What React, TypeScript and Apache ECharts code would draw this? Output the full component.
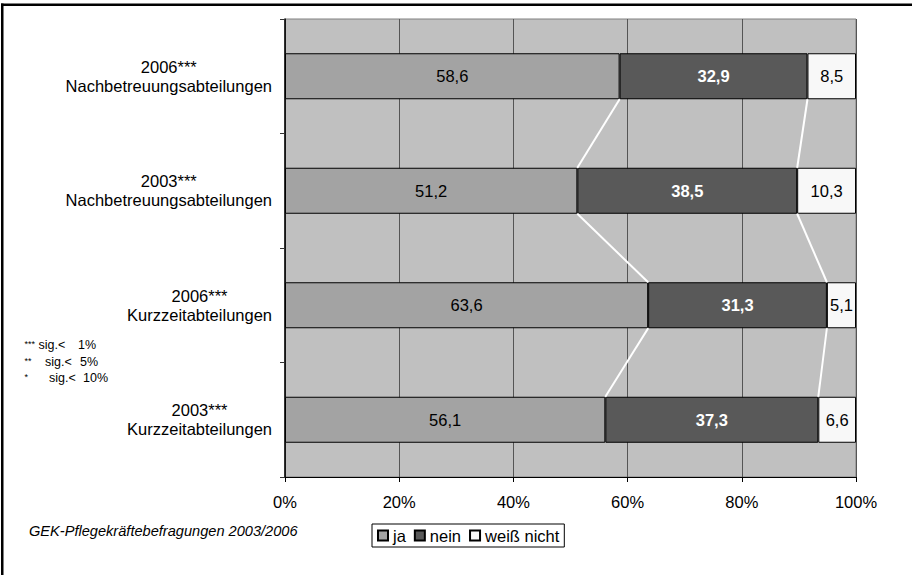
import React, { useEffect, useRef } from 'react';
import * as echarts from 'echarts';

// ---------- data ----------
const categories = [
  '2006***\nNachbetreuungsabteilungen',
  '2003***\nNachbetreuungsabteilungen',
  '2006***\nKurzzeitabteilungen',
  '2003***\nKurzzeitabteilungen',
];
const seriesNames = ['ja', 'nein', 'weiß nicht'];
const jaValues = [58.6, 51.2, 63.6, 56.1];
const neinValues = [32.9, 38.5, 31.3, 37.3];
const weissNichtValues = [8.5, 10.3, 5.1, 6.6];
const xMin = 0;
const xMax = 100;
const xInterval = 20;
const sourceNote = 'GEK-Pflegekräftebefragungen 2003/2006';
const sigStars = ['***', '**', '*'];
const sigTexts = ['sig.<', 'sig.<', 'sig.<'];
const sigLevels = ['1%', '5%', '10%'];

// ---------- style ----------
const FONT = "'Liberation Sans', Arial, sans-serif";
const FS = 16.5;
const BAR_W = 46;
const colors = ['#A3A3A3', '#595959', '#F8F8F8'];

const fmt = (v: number) => String(v).replace('.', ',');

export default function App() {
  const ref = useRef<HTMLDivElement>(null);

  useEffect(() => {
    if (!ref.current) return;
    const chart = echarts.init(ref.current, null, { renderer: 'svg' });

    const cum1 = jaValues;
    const cum2 = jaValues.map((v, i) => v + neinValues[i]);
    const connectors: number[][] = [];
    for (let i = 0; i < categories.length - 1; i++) {
      connectors.push([i, cum1[i], cum1[i + 1]]);
      connectors.push([i, cum2[i], cum2[i + 1]]);
    }

    const valueLists = [jaValues, neinValues, weissNichtValues];
    const labelStyles = [
      { color: '#000', fontWeight: 'normal' },
      { color: '#fff', fontWeight: 'bold' },
      { color: '#000', fontWeight: 'normal' },
    ];

    const barSeries = seriesNames.map((name, si) => ({
      name,
      type: 'bar',
      stack: 'total',
      barWidth: BAR_W,
      data: valueLists[si],
      itemStyle: { color: colors[si], borderColor: '#000', borderWidth: 1 },
      label: {
        show: true,
        position: 'inside',
        fontFamily: FONT,
        fontSize: FS,
        color: labelStyles[si].color,
        fontWeight: labelStyles[si].fontWeight,
        formatter: (p: any) => fmt(p.value),
      },
      emphasis: { disabled: true },
      z: 2,
    }));

    const sigGraphics: any[] = [];
    const sigY = [345, 361.5, 378];
    const starX = [24.5, 24.5, 24.5];
    const sigX = [38.5, 45, 49];
    const lvlX = [78, 80, 83];
    sigStars.forEach((s, i) => {
      sigGraphics.push({ type: 'text', x: starX[i], y: sigY[i] - 1, style: { text: s, font: `9px ${FONT}`, fill: '#000', verticalAlign: 'middle' } });
      sigGraphics.push({ type: 'text', x: sigX[i], y: sigY[i], style: { text: sigTexts[i], font: `12.5px ${FONT}`, fill: '#000', verticalAlign: 'middle' } });
      sigGraphics.push({ type: 'text', x: lvlX[i], y: sigY[i], style: { text: sigLevels[i], font: `12.5px ${FONT}`, fill: '#000', verticalAlign: 'middle' } });
    });

    const option: any = {
      animation: false,
      textStyle: { fontFamily: FONT },
      grid: {
        left: 285,
        top: 19,
        width: 571,
        height: 458,
        show: true,
        backgroundColor: '#C0C0C0',
        borderColor: '#808080',
        borderWidth: 1,
        outerBoundsMode: 'none',
        containLabel: false,
      },
      legend: {
        data: seriesNames,
        left: 372,
        top: 524,
        orient: 'horizontal',
        icon: 'rect',
        itemWidth: 10,
        itemHeight: 10,
        itemGap: 8,
        padding: [3, 5, 3, 5],
        borderColor: '#000',
        borderWidth: 1,
        selectedMode: false,
        textStyle: { fontFamily: FONT, fontSize: FS, color: '#000' },
      },
      xAxis: {
        type: 'value',
        min: xMin,
        max: xMax,
        interval: xInterval,
        axisLabel: { formatter: '{value}%', fontFamily: FONT, fontSize: FS, color: '#000', margin: 16 },
        axisLine: { show: true, lineStyle: { color: '#000', width: 1 } },
        axisTick: { show: true, length: 5, lineStyle: { color: '#000' } },
        splitLine: { show: true, lineStyle: { color: '#555', width: 1 } },
      },
      yAxis: {
        type: 'category',
        data: categories,
        inverse: true,
        axisLine: { show: true, lineStyle: { color: '#000', width: 1.5 } },
        axisTick: { show: true, length: 5, lineStyle: { color: '#333' } },
        splitLine: { show: false },
        axisLabel: {
          margin: 13,
          color: '#000',
          formatter: (v: string) => v.split('\n').map((s) => `{c|${s}}`).join('\n'),
          rich: { c: { align: 'center', fontFamily: FONT, fontSize: FS, lineHeight: 19, color: '#000' } },
        },
      },
      series: [
        ...barSeries,
        {
          type: 'custom',
          name: 'connectors',
          data: connectors,
          encode: { x: [1, 2], y: 0 },
          z: 3,
          silent: true,
          renderItem: (params: any, api: any) => {
            const i = api.value(0);
            const p1 = api.coord([api.value(1), i]);
            const p2 = api.coord([api.value(2), i + 1]);
            return {
              type: 'line',
              shape: { x1: p1[0], y1: p1[1] + BAR_W / 2, x2: p2[0], y2: p2[1] - BAR_W / 2 },
              style: { stroke: '#fff', lineWidth: 2 },
            };
          },
        },
      ],
      graphic: [
        { type: 'rect', shape: { x: 1, y: 3.5, width: 911, height: 2.5 }, style: { fill: '#000' } },
        { type: 'rect', shape: { x: 1, y: 3.5, width: 2.5, height: 572 }, style: { fill: '#000' } },
        {
          type: 'text',
          x: 29,
          y: 531,
          style: { text: sourceNote, font: `italic 14.6px ${FONT}`, fill: '#000', verticalAlign: 'middle' },
        },
        ...sigGraphics,
      ],
    };

    chart.setOption(option);
    return () => chart.dispose();
  }, []);

  return (
    <div
      ref={ref}
      style={{ position: 'fixed', left: 0, top: 0, width: 912, height: 575, overflow: 'hidden', background: '#fff' }}
    />
  );
}
